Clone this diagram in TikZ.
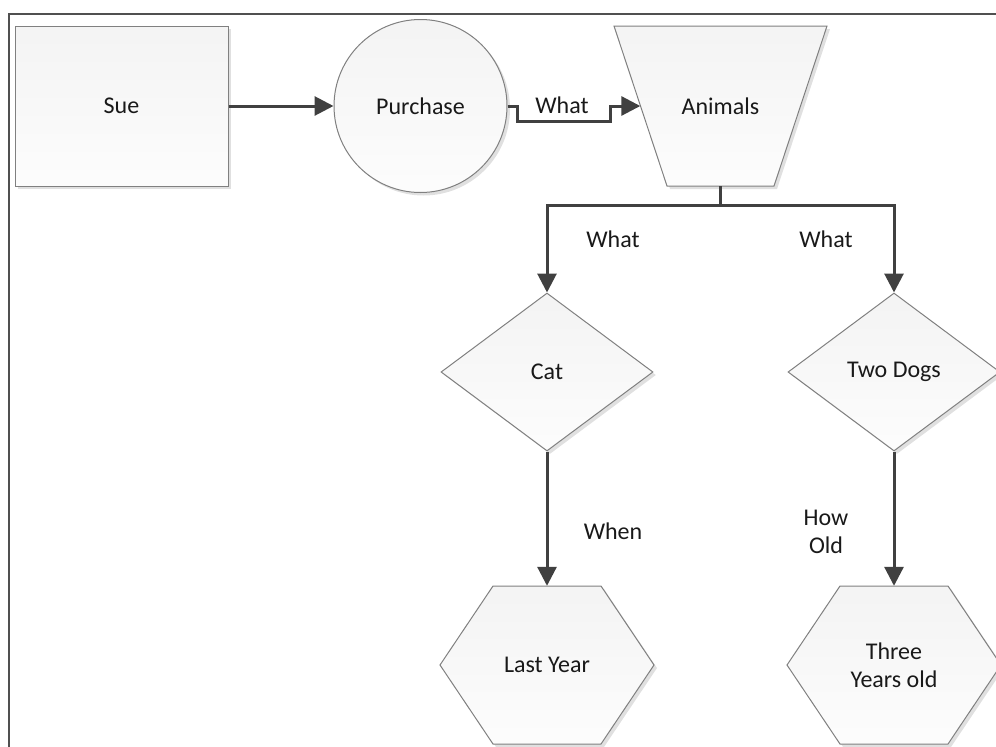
\documentclass[tikz,border=0pt]{standalone}
\usepackage{fontspec}
\setmainfont{Carlito}
\usetikzlibrary{arrows.meta,shapes.geometric,shadows,calc}
\definecolor{cline}{RGB}{64,64,64}
\definecolor{edgec}{RGB}{128,128,128}
\definecolor{txtc}{RGB}{25,25,25}
\definecolor{framec}{RGB}{80,80,80}
\begin{document}
\begin{tikzpicture}[x=1pt,y=-1pt,
  every node/.style={font=\fontsize{24}{28}\selectfont, text=txtc},
  shp/.style={draw=edgec, line width=1pt, top color=gray!9, bottom color=gray!2,
    drop shadow={shadow xshift=3pt,shadow yshift=-3pt,fill=black,opacity=0.12}},
  holder/.style={inner sep=0pt, align=center},
  link/.style={draw=cline, line width=3pt, -{Triangle[length=19pt,width=19pt]}},
  lbl/.style={inner sep=0pt, align=center}]
\useasboundingbox (0,0) rectangle (996,747);
\clip (0,0) rectangle (996,747);
% frame
\draw[framec, line width=2pt] (9,760) -- (9,14) -- (1010,14);
% shapes
\node[shp, rectangle, minimum width=213pt, minimum height=160pt] (sue) at (121.5,106) {Sue};
\node[shp, circle, minimum size=173pt, inner sep=0pt] (pur) at (420.5,106) {Purchase};
\path[shp] (614,26) -- (827,26) -- (774,186) -- (667,186) -- cycle;
\node[holder, minimum width=160pt, minimum height=160pt] (ani) at (720.5,106) {Animals};
\node[shp, diamond, minimum width=212pt, minimum height=158pt, inner sep=0pt] (cat) at (547,372) {Cat};
\node[shp, diamond, minimum width=212pt, minimum height=158pt, inner sep=0pt] (dogs) at (894,372) {Two Dogs};
\path[shp, shift={(547,665)}] (-107,0) -- (-54,-79) -- (54,-79) -- (107,0) -- (54,79) -- (-54,79) -- cycle;
\path[shp, shift={(894,665)}] (-107,0) -- (-54,-79) -- (54,-79) -- (107,0) -- (54,79) -- (-54,79) -- cycle;
\node[holder, minimum width=214pt, minimum height=158pt] (ly) at (547,665) {Last Year};
\node[holder, minimum width=214pt, minimum height=158pt] (tyo) at (894,665) {Three\\Years old};
% connectors
\draw[link] (sue.east) -- (pur.west);
\draw[link] (pur.east) -- ++(10,0) -- ++(0,15) -| ($(ani.west)+(-30,0)$) -- (ani.west);
\draw[link] (ani.south) -- ++(0,19) -| (cat.north);
\draw[link] (ani.south) -- ++(0,19) -| (dogs.north);
\draw[link] (cat.south) -- (ly.north);
\draw[link] (dogs.south) -- (tyo.north);
% labels
\node[lbl] (w1) at (562,105) {What};
\node[lbl] (w2) at (613,239) {What};
\node[lbl] (w3) at (826,239) {What};
\node[lbl] (when) at (613,531) {When};
\node[lbl] (howold) at (826,532) {How\\Old};
\end{tikzpicture}
\end{document}
